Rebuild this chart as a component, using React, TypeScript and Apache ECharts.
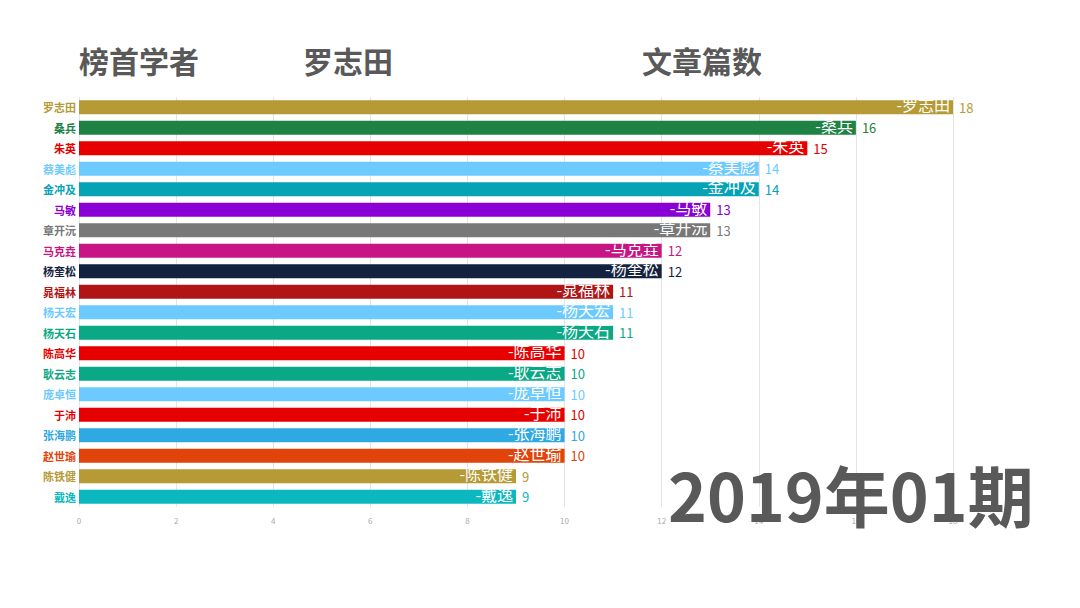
import React, { useEffect, useRef } from "react";
import * as echarts from "echarts";

const names = ["罗志田", "桑兵", "朱英", "蔡美彪", "金冲及", "马敏", "章开沅", "马克垚", "杨奎松", "晁福林", "杨天宏", "杨天石", "陈高华", "耿云志", "庞卓恒", "于沛", "张海鹏", "赵世瑜", "陈铁健", "戴逸"];
const values = [18, 16, 15, 14, 14, 13, 13, 12, 12, 11, 11, 11, 10, 10, 10, 10, 10, 10, 9, 9];
const colors = ["#b59a35", "#1d8243", "#e60000", "#6dcaff", "#06a2b6", "#8a00d4", "#787878", "#c71585", "#13223e", "#b01414", "#6dcaff", "#0aa884", "#e60000", "#0aa884", "#6dcaff", "#e60000", "#2fa9e2", "#e0440a", "#b59a35", "#0bb8c0"];
const titleLabels = ["榜首学者", "罗志田", "文章篇数"];
const periodLabel = "2019年01期";

const FONT = "'Noto Sans CJK SC', 'Noto Sans', sans-serif";

export default function App() {
  const ref = useRef<HTMLDivElement>(null);
  useEffect(() => {
    if (!ref.current) return;
    const chart = echarts.init(ref.current, undefined, { renderer: "svg" });
    chart.setOption({
      animation: false,
      textStyle: { fontFamily: FONT },
      grid: { left: 79, right: 127, top: 97, bottom: 101, containLabel: false },
      xAxis: {
        type: "value",
        min: 0,
        max: 18,
        interval: 2,
        axisLine: { show: false },
        axisTick: { show: false },
        axisLabel: { color: "#aaaaaa", fontSize: 8, margin: 9, fontFamily: FONT },
        splitLine: { lineStyle: { color: "#e4e4e4" } },
      },
      yAxis: {
        type: "category",
        inverse: true,
        data: names,
        axisLine: { show: false },
        axisTick: { show: false },
        axisLabel: {
          fontSize: 11,
          fontWeight: "bold",
          margin: 3,
          fontFamily: FONT,
          color: (_v: any, i: number) => colors[i],
        },
      },
      series: [
        {
          type: "bar",
          barWidth: 14,
          data: values.map((v, i) => ({
            value: v,
            itemStyle: { color: colors[i] },
          })),
          label: {
            show: true,
            position: "insideRight",
            offset: [2, -3],
            color: "#ffffff",
            fontSize: 16,
            fontFamily: FONT,
            formatter: (p: any) => "-" + names[p.dataIndex],
          },
          z: 2,
        },
        {
          type: "bar",
          barWidth: 14,
          barGap: "-100%",
          data: values.map((v, i) => ({
            value: v,
            itemStyle: { color: "transparent" },
            label: { color: colors[i] },
          })),
          label: {
            show: true,
            position: "right",
            distance: 6,
            fontSize: 13,
            fontFamily: FONT,
            formatter: (p: any) => String(p.value),
          },
          z: 3,
        },
      ],
      graphic: [
        {
          type: "text",
          left: 79,
          top: 45,
          style: { text: titleLabels[0], fontSize: 30, fontWeight: "bold", fill: "#595959", fontFamily: FONT },
        },
        {
          type: "text",
          left: 303,
          top: 45,
          style: { text: titleLabels[1], fontSize: 30, fontWeight: "bold", fill: "#595959", fontFamily: FONT },
        },
        {
          type: "text",
          left: 642,
          top: 45,
          style: { text: titleLabels[2], fontSize: 30, fontWeight: "bold", fill: "#595959", fontFamily: FONT },
        },
        {
          type: "text",
          left: 668,
          top: 460,
          z: 100,
          style: { text: periodLabel, fontSize: 66, fontWeight: "bold", fill: "#595959", fontFamily: FONT },
        },
      ],
    });
    return () => chart.dispose();
  }, []);
  return <div ref={ref} style={{ width: 1080, height: 608, position: "absolute", left: 0, top: 0 }} />;
}
